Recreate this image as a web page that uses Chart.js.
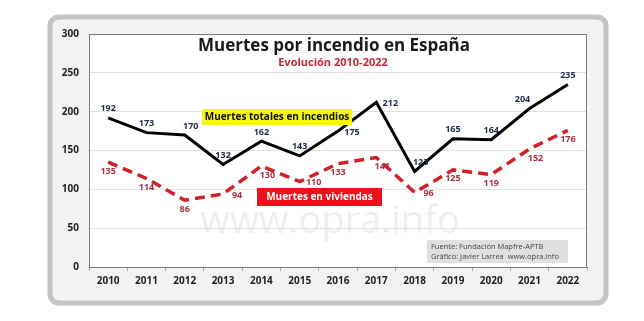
<!DOCTYPE html>
<html>
<head>
<meta charset="utf-8">
<script src="https://cdn.jsdelivr.net/npm/chart.js@4.4.1/dist/chart.umd.min.js"></script>
<style>
  html, body { margin: 0; padding: 0; background: #fff; }
  #wrap { width: 644px; height: 321px; }
</style>
</head>
<body>
<div id="wrap"><canvas id="myChart" width="644" height="321"></canvas></div>
<script>
// data
const years = ["2010", "2011", "2012", "2013", "2014", "2015", "2016", "2017", "2018", "2019", "2020", "2021", "2022"];
const totales = [192, 173, 170, 132, 162, 143, 175, 212, 123, 165, 164, 204, 235];
const viviendas = [135, 114, 86, 94, 130, 110, 133, 141, 96, 125, 119, 152, 176];
const yTicks = [0, 50, 100, 150, 200, 250, 300];

const FONT = "'Open Sans', 'Liberation Sans', sans-serif";

// where each value label sits relative to its point
const blackPlace = ["a", "a", "ar", "a", "a", "a", "r", "r", "ar", "a", "a", "al", "a"];
const redPlace = ["b", "b", "b", "r", "br", "r", "b", "br", "r", "b", "b", "br", "b"];

const frame = {
  id: "frame",
  beforeDraw(chart) {
    const c = chart.ctx;
    const a = chart.chartArea;
    c.save();
    c.fillStyle = "#fff";
    c.fillRect(0, 0, chart.width, chart.height);
    // outer rounded frame
    c.beginPath();
    c.roundRect(50, 17, 556, 286, 9);
    c.fillStyle = "#f3f3f3";
    c.fill();
    c.lineWidth = 5;
    c.strokeStyle = "#c4c4c4";
    c.stroke();
    // plot area
    c.fillStyle = "#fff";
    c.fillRect(a.left, a.top, a.right - a.left, a.bottom - a.top);
    // watermark
    c.font = "38px " + FONT;
    c.fillStyle = "rgba(200,200,200,0.3)";
    c.textAlign = "center";
    c.textBaseline = "middle";
    c.fillText("www.opra.info", 330, 222);
    c.restore();
  },
  afterDraw(chart) {
    const c = chart.ctx;
    const a = chart.chartArea;
    c.save();
    c.strokeStyle = "#7a7a7a";
    c.lineWidth = 1;
    c.strokeRect(a.left + 0.5, a.top + 0.5, a.right - a.left - 1, a.bottom - a.top);
    c.restore();
  }
};

const annotations = {
  id: "annotations",
  afterDatasetsDraw(chart) {
    const c = chart.ctx;
    c.save();
    c.textAlign = "center";
    c.textBaseline = "middle";
    // title
    c.fillStyle = "#1a1a1a";
    c.font = "bold 17px " + FONT;
    c.fillText("Muertes por incendio en España", 334, 46);
    c.fillStyle = "#c0283a";
    c.font = "bold 11px " + FONT;
    c.fillText("Evolución 2010-2022", 333, 63);
    // series boxes
    c.fillStyle = "#f5f516";
    c.fillRect(202, 109, 150, 16);
    c.fillStyle = "#111";
    c.font = "bold 10px " + FONT;
    c.fillText("Muertes totales en incendios", 277, 117);
    c.fillStyle = "#e8141b";
    c.fillRect(257, 188, 125, 18);
    c.fillStyle = "#fff";
    c.fillText("Muertes en viviendas", 319.5, 197);
    // source box
    c.fillStyle = "#e0e0e0";
    c.fillRect(427, 240, 141, 23);
    c.fillStyle = "#444";
    c.font = "7.5px " + FONT;
    c.textAlign = "left";
    c.fillText("Fuente: Fundación Mapfre-APTB", 431, 246.5);
    c.fillText("Gráfico: Javier Larrea  www.opra.info", 431, 256.5);

    // value labels
    c.textAlign = "center";
    c.font = "bold 9px " + FONT;
    const put = (meta, vals, place, color) => {
      c.fillStyle = color;
      meta.data.forEach((pt, i) => {
        let dx = 0, dy = 0;
        const p = place[i];
        if (p.includes("a")) dy = -9;
        if (p.includes("b")) dy = 9;
        if (p.includes("r")) dx = p.length > 1 ? 6 : 14;
        if (p.includes("l")) dx = -7;
        if (p === "r") dy = 1;
        c.fillText(vals[i], pt.x + dx, pt.y + dy);
      });
    };
    put(chart.getDatasetMeta(0), totales, blackPlace, "#1f2a4a");
    put(chart.getDatasetMeta(1), viviendas, redPlace, "#a8303e");
    c.restore();
  }
};

const data = {
  labels: years,
  datasets: [
    {
      label: "Muertes totales en incendios",
      data: totales,
      borderColor: "#000",
      borderWidth: 3,
      pointRadius: 0,
      tension: 0
    },
    {
      label: "Muertes en viviendas",
      data: viviendas,
      borderColor: "#d0202a",
      borderWidth: 3.5,
      borderDash: [10, 6],
      pointRadius: 0,
      tension: 0
    }
  ]
};

const config = {
  type: "line",
  data: data,
  options: {
    responsive: false,
    animation: false,
    layout: { padding: { left: 52, right: 57, top: 34, bottom: 20 } },
    plugins: { legend: { display: false }, tooltip: { enabled: false } },
    scales: {
      x: {
        offset: true,
        grid: { display: true, drawOnChartArea: false, tickLength: 4, color: "#aaa", offset: true },
        border: { color: "#7a7a7a" },
        ticks: { color: "#222", font: { family: FONT, size: 10, weight: "bold" }, padding: 4, maxRotation: 0 },
        afterFit(s) { s.height = 34; }
      },
      y: {
        min: 0,
        max: 300,
        afterBuildTicks(s) { s.ticks = yTicks.map(v => ({ value: v })); },
        grid: { color: "#e2e2e2", drawTicks: false },
        border: { color: "#7a7a7a" },
        ticks: { color: "#222", font: { family: FONT, size: 10, weight: "bold" }, padding: 10 },
        afterFit(s) { s.width = 37; }
      }
    }
  },
  plugins: [frame, annotations]
};

const ctx = document.getElementById("myChart");
const myChart = new Chart(ctx, config);
</script>
</body>
</html>
